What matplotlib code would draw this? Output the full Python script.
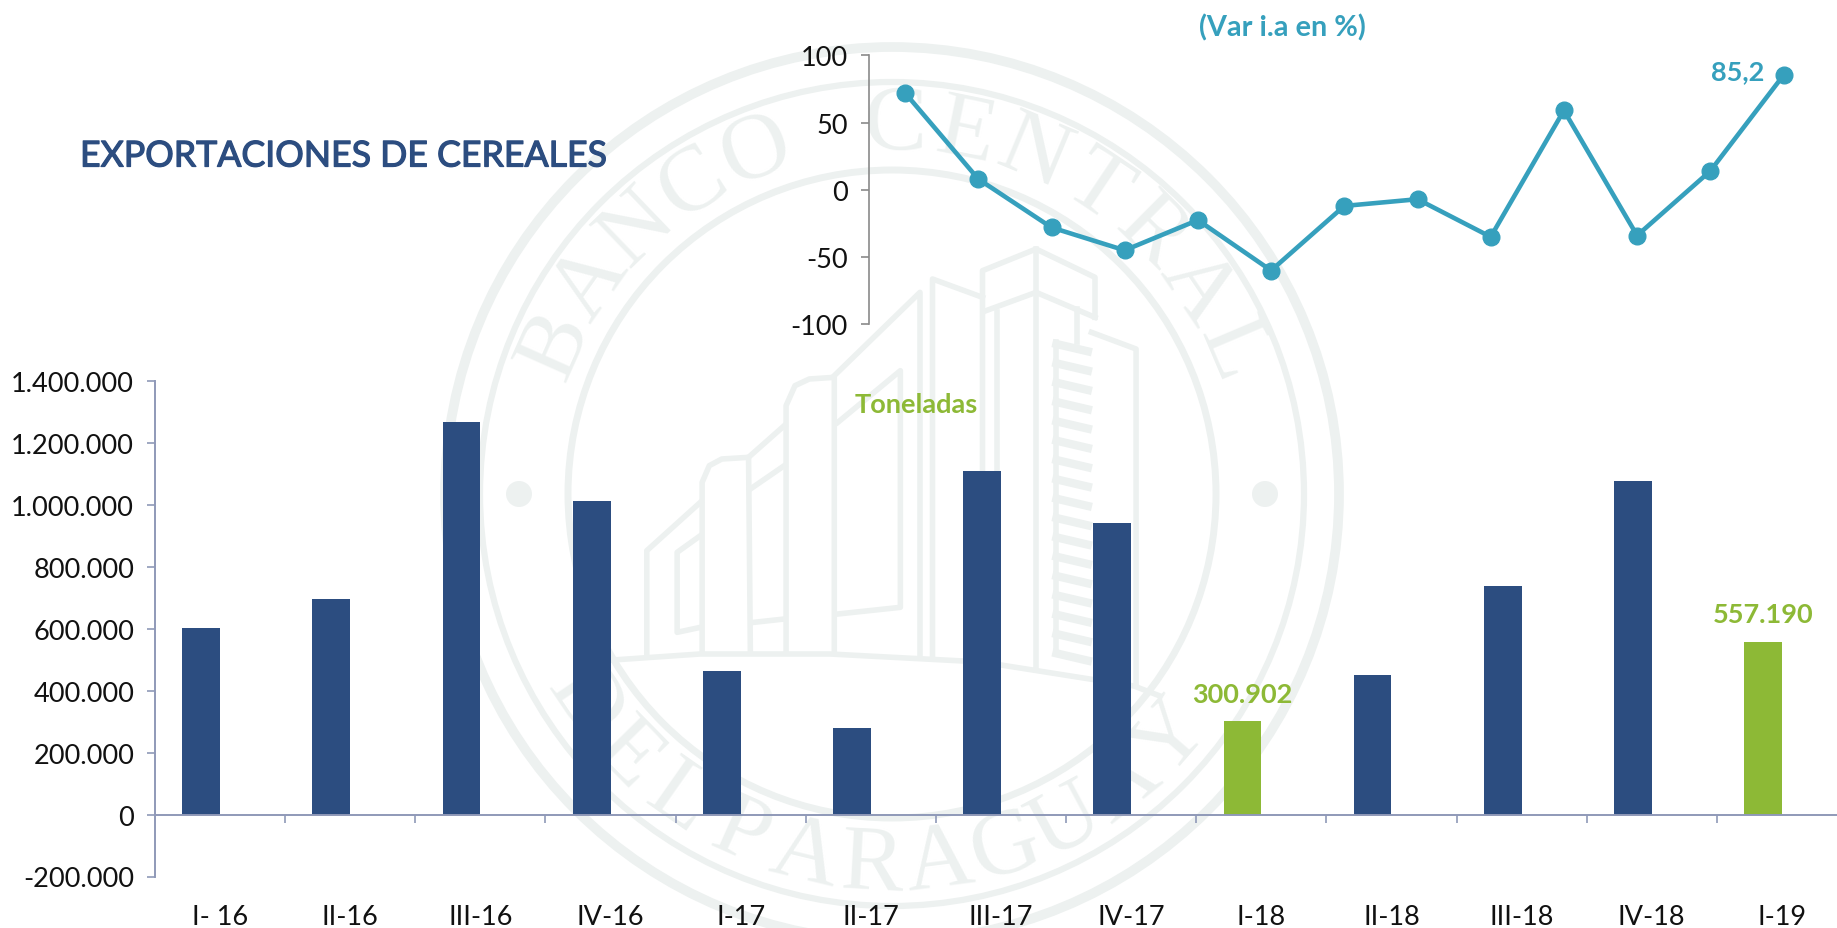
import numpy as np
import matplotlib
matplotlib.use('Agg')
import matplotlib.pyplot as plt
import matplotlib.patheffects as pe
from matplotlib.patches import Circle

plt.rcParams['font.family'] = ['Lato', 'DejaVu Sans']
plt.rcParams['axes.unicode_minus'] = False

# Datos
trimestres = ['I- 16', 'II-16', 'III-16', 'IV-16', 'I-17', 'II-17', 'III-17', 'IV-17',
              'I-18', 'II-18', 'III-18', 'IV-18', 'I-19']
toneladas = [601000, 695000, 1268000, 1012000, 462000, 280000, 1108000, 942000,
             300902, 450000, 738000, 1078000, 557190]
var_ia = [72, 8, -28, -45, -22.5, -60, -12, -7, -35, 59, -34, 14, 85.2]
ticks_ton = [-200000, 0, 200000, 400000, 600000, 800000, 1000000, 1200000, 1400000]
labels_ton = ['-200.000', '0', '200.000', '400.000', '600.000', '800.000', '1.000.000',
              '1.200.000', '1.400.000']
ticks_var = [-100, -50, 0, 50, 100]
destacados = {'I-18': '300.902', 'I-19': '557.190'}

W, H = 1837, 929
AZUL = '#2c4d80'
VERDE = '#8db936'
CELESTE = '#36a0bd'
SELLO = '#edf1f0'
EJE = '#8f99b8'
FS = 19.5


def ejes_px(x0, y0, x1, y1):
    # caja en pixeles de la imagen (y hacia abajo)
    return fig.add_axes([x0 / W, 1 - y1 / H, (x1 - x0) / W, (y1 - y0) / H])


fig = plt.figure(figsize=(W / 100, H / 100), dpi=100, facecolor='white')

# Sello de fondo
fondo = ejes_px(0, 0, W, H)
fondo.set_xlim(0, W)
fondo.set_ylim(H, 0)
fondo.axis('off')
cx, cy = 892, 495
for r, lw in [(447, 7), (412, 4.5), (324, 5)]:
    fondo.add_patch(Circle((cx, cy), r, fill=False, ec=SELLO, lw=lw))
for dx in (-373, 373):
    fondo.add_patch(Circle((cx + dx, cy), 13, fc=SELLO, ec='none'))


def arco(texto, a0, a1, radio, abajo=False):
    for ch, a in zip(texto, np.linspace(a0, a1, len(texto))):
        x = cx + radio * np.cos(np.radians(a))
        y = cy - radio * np.sin(np.radians(a))
        rot = a + 90 if abajo else a - 90
        fondo.text(x, y, ch, fontsize=68, family='Liberation Serif', color=SELLO,
                   rotation=rot, rotation_mode='anchor', ha='center', va='center')


arco('BANCO CENTRAL', 156, 23, 368)
arco('DEL', 214, 235, 372, abajo=True)
arco('PARAGUAY', 246, 319, 372, abajo=True)

# Edificio del sello (coordenadas sacadas del recorte)
edificio = [
    [(75, 1270), (75, 965), (225, 820)],
    [(225, 1195), (160, 1210), (160, 970), (225, 920)],
    [(230, 1270), (230, 760), (250, 710), (285, 690), (360, 685), (365, 1270)],
    [(365, 680), (460, 590)], [(365, 780), (460, 710)], [(375, 1180), (460, 1170)],
    [(465, 1270), (465, 530), (490, 470), (530, 450), (600, 445), (600, 1270)],
    [(600, 440), (840, 190), (840, 1285)],
    [(610, 580), (785, 425), (785, 1135), (610, 1155)],
    [(875, 1285), (875, 150), (1015, 205)],
    [(1015, 1295), (1015, 125), (1165, 60), (1330, 145), (1330, 265)],
    [(1025, 245), (1165, 190), (1330, 265)],
    [(1165, 60), (1165, 1315)], [(1055, 1295), (1055, 250)],
    [(1280, 240), (1280, 340)], [(1320, 310), (1445, 360), (1445, 1370)],
    [(1222, 340), (1222, 1270)],
]
for tramo in edificio:
    xs = [620 + p[0] / 2.8 for p in tramo]
    ys = [230 + p[1] / 3 for p in tramo]
    fondo.plot(xs, ys, color=SELLO, lw=4, solid_joinstyle='round')
for yy in range(345, 1300, 58):
    fondo.plot([620 + 1222 / 2.8, 620 + 1310 / 2.8], [230 + yy / 3, 230 + (yy + 22) / 3],
               color=SELLO, lw=6)
# cuerda bajo el edificio
fondo.plot([613, 700, 830, 982, 1134, 1160], [661, 655, 655, 663, 687, 697], color=SELLO, lw=4)

# Barras
ax = ejes_px(155, 382, 155 + 13 * 130.15, 877.5)
ax.patch.set_visible(False)
x = np.arange(len(trimestres))
colores = [VERDE if t in destacados else AZUL for t in trimestres]
ax.bar(x - 0.145, toneladas, width=0.29, color=colores)
ax.set_xlim(-0.5, 12.5)
ax.set_ylim(-200000, 1400000)
ax.set_yticks(ticks_ton)
ax.set_yticklabels(labels_ton, fontsize=FS, color='#111111')
ax.set_xticks(x[:-1] + 0.5)
ax.set_xticklabels([])
ax.tick_params(axis='both', color=EJE, width=1.2, length=6)
ax.tick_params(axis='y', pad=9)
for lado in ('top', 'right'):
    ax.spines[lado].set_visible(False)
ax.spines['bottom'].set_position(('data', 0))
ax.spines['bottom'].set_color(EJE)
ax.spines['bottom'].set_linewidth(1.4)
ax.spines['left'].set_color(EJE)
ax.spines['left'].set_linewidth(1.4)
for i, t in enumerate(trimestres):
    ax.text(i, -0.081, t, transform=ax.get_xaxis_transform(), ha='center', va='center',
            fontsize=FS, color='#111111', clip_on=False)
    if t in destacados:
        ax.annotate(destacados[t], (i - 0.145, toneladas[i]), xytext=(0, 20),
                    textcoords='offset points', ha='center', va='center', fontsize=FS,
                    color=VERDE, fontweight='bold')
fig.text(916 / W, 1 - 405 / H, 'Toneladas', color=VERDE, fontsize=FS, fontweight='bold',
         ha='center', va='center')

# Variacion interanual
ax2 = ejes_px(868.5, 56.3, 868.5 + 13 * 73.2, 325.3)
ax2.patch.set_visible(False)
ax2.plot(x, var_ia, color=CELESTE, lw=3.3, marker='o', ms=12, clip_on=False)
ax2.set_xlim(-0.5, 12.5)
ax2.set_ylim(-100, 100)
ax2.set_yticks(ticks_var)
ax2.tick_params(axis='y', labelsize=FS, labelcolor='#111111', color='#8a8a8a', width=1.2,
                length=6, pad=9)
ax2.set_xticks([])
for lado in ('top', 'right', 'bottom'):
    ax2.spines[lado].set_visible(False)
ax2.spines['left'].set_color('#8a8a8a')
ax2.spines['left'].set_linewidth(1.2)
ax2.annotate('85,2', (12, var_ia[-1]), xytext=(-33, 3), textcoords='offset points',
             ha='center', va='center', fontsize=FS, color=CELESTE, fontweight='bold')
fig.text(1282 / W, 1 - 28 / H, '(Var i.a en %)', color=CELESTE, fontsize=20.8, fontweight='bold',
         ha='center', va='center')

titulo = fig.text(80 / W, 1 - 157 / H, 'EXPORTACIONES DE CEREALES', color=AZUL, fontsize=25.7,
                  ha='left', va='center')
titulo.set_path_effects([pe.withStroke(linewidth=0.9, foreground=AZUL)])

fig.savefig('out.png', dpi=100)
